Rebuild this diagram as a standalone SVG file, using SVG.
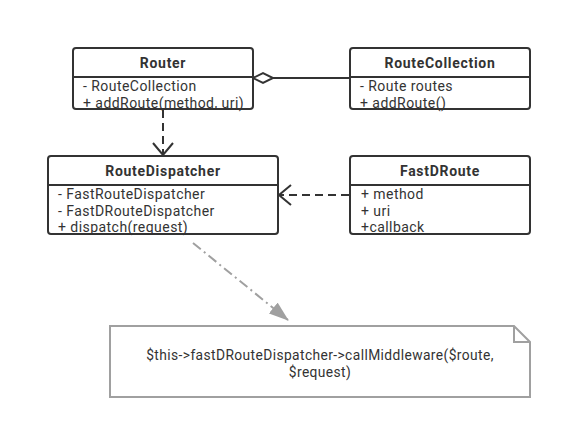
<svg xmlns="http://www.w3.org/2000/svg" width="562" height="430" viewBox="0 0 562 430">
  <defs>
    <style>
      .box { fill: #ffffff; stroke: #333333; stroke-width: 2; }
      .sep { stroke: #333333; stroke-width: 2; }
      .title { font-family: Roboto, "Noto Sans", sans-serif; font-size: 14px; font-weight: bold; letter-spacing: 0.7px; fill: #333333; text-anchor: middle; }
      .attr { font-family: Roboto, "Noto Sans", sans-serif; font-size: 14px; letter-spacing: 0.45px; fill: #333333; }
      .edge { fill: none; stroke: #333333; stroke-width: 2; }
      .dashed { stroke-dasharray: 8 5; }
      .note { fill: #ffffff; stroke: #a0a0a0; stroke-width: 2; }
      .notetext { font-family: Roboto, "Noto Sans", sans-serif; font-size: 13.8px; letter-spacing: 0.4px; fill: #333333; text-anchor: middle; }
    </style>
    <marker id="open-arrow" viewBox="0 0 14 22" refX="13" refY="11" markerWidth="14" markerHeight="22" markerUnits="userSpaceOnUse" orient="auto">
      <path d="M1,1 L13,11 L1,21" fill="none" stroke="#333333" stroke-width="2"/>
    </marker>
    <marker id="gray-arrow" viewBox="0 0 20 14" refX="19" refY="7" markerWidth="20" markerHeight="14" markerUnits="userSpaceOnUse" orient="auto">
      <path d="M0,0 L20,7 L0,14 Z" fill="#a0a0a0"/>
    </marker>
  </defs>

  <rect width="562" height="430" fill="#ffffff"/>

  <!-- connectors -->
  <g id="connectors">
    <!-- aggregation: RouteCollection to Router -->
    <line class="edge" x1="273" y1="78" x2="350" y2="78"/>
    <path d="M253,78 L263,73 L273,78 L263,83 Z" fill="#ffffff" stroke="#333333" stroke-width="2"/>
    <!-- dependency: Router to RouteDispatcher -->
    <line class="edge dashed" x1="163" y1="110" x2="163" y2="155" marker-end="url(#open-arrow)"/>
    <!-- dependency: FastDRoute to RouteDispatcher -->
    <line class="edge dashed" x1="349" y1="195" x2="279" y2="195" marker-end="url(#open-arrow)"/>
    <!-- note link -->
    <line x1="193" y1="243" x2="288" y2="320" stroke="#a0a0a0" stroke-width="2" stroke-dasharray="10 4 2 4" marker-end="url(#gray-arrow)"/>
  </g>

  <g id="Router">
    <rect class="box" x="73" y="48" width="180" height="61" rx="3"/>
    <line class="sep" x1="73" y1="77" x2="253" y2="77"/>
    <text class="title" x="163" y="68">Router</text>
    <text class="attr" x="83" y="91">- RouteCollection</text>
    <text class="attr" x="83" y="107.5">+ addRoute(method, uri)</text>
  </g>

  <g id="RouteCollection">
    <rect class="box" x="350" y="48" width="180" height="61" rx="3"/>
    <line class="sep" x1="350" y1="77" x2="530" y2="77"/>
    <text class="title" x="440" y="68">RouteCollection</text>
    <text class="attr" x="360" y="91">- Route routes</text>
    <text class="attr" x="360" y="107.5">+ addRoute()</text>
  </g>

  <g id="RouteDispatcher">
    <rect class="box" x="48" y="156" width="230" height="78" rx="3"/>
    <line class="sep" x1="48" y1="185" x2="278" y2="185"/>
    <text class="title" x="163" y="176">RouteDispatcher</text>
    <text class="attr" x="58" y="199">- FastRouteDispatcher</text>
    <text class="attr" x="58" y="215.5">- FastDRouteDispatcher</text>
    <text class="attr" x="58" y="232">+ dispatch(request)</text>
  </g>

  <g id="FastDRoute">
    <rect class="box" x="350" y="156" width="180" height="78" rx="3"/>
    <line class="sep" x1="350" y1="185" x2="530" y2="185"/>
    <text class="title" x="440" y="176">FastDRoute</text>
    <text class="attr" x="361" y="199">+ method</text>
    <text class="attr" x="361" y="215.5">+ uri</text>
    <text class="attr" x="361" y="232">+callback</text>
  </g>

  <g id="Note">
    <path class="note" d="M110,326 L514,326 L530,342 L530,397 L110,397 Z"/>
    <path d="M514,326 L514,342 L530,342" fill="none" stroke="#a0a0a0" stroke-width="2"/>
    <text class="notetext" x="320" y="360">$this-&gt;fastDRouteDispatcher-&gt;callMiddleware($route,</text>
    <text class="notetext" x="320" y="376.5">$request)</text>
  </g>
</svg>
